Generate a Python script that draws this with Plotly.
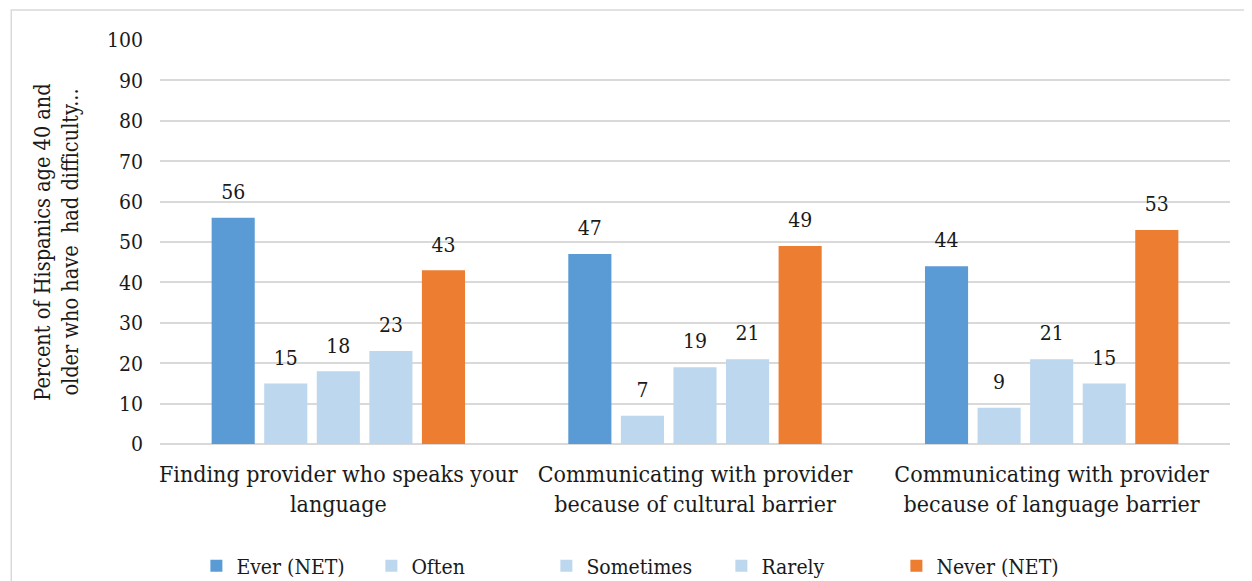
import plotly.graph_objects as go

categories = [
    "Finding provider who speaks your<br>language",
    "Communicating with provider<br>because of cultural barrier",
    "Communicating with provider<br>because of language barrier",
]
series_names = ["Ever (NET)", "Often", "Sometimes", "Rarely", "Never (NET)"]
ever = [56, 47, 44]
often = [15, 7, 9]
sometimes = [18, 19, 21]
rarely = [23, 21, 15]
never = [43, 49, 53]
series_values = [ever, often, sometimes, rarely, never]

# styles
colors = ["#5B9BD5", "#BDD7EE", "#BDD7EE", "#BDD7EE", "#ED7D31"]

FONT = "DejaVu Serif Condensed, Liberation Serif, serif"
TXT = "#1a1a1a"

fig = go.Figure()
for name, vals, col in zip(series_names, series_values, colors):
    fig.add_trace(go.Bar(
        name=name, x=categories, y=vals, marker_color=col,
        marker_line_width=0,
    ))
for name, vals in zip(series_names, series_values):
    fig.add_trace(go.Scatter(
        name=name, x=categories, y=vals, mode="markers+text",
        text=[str(v) for v in vals], textposition="top center",
        textfont=dict(family=FONT, size=21, color=TXT),
        marker=dict(size=20, opacity=0),
        showlegend=False, hoverinfo="skip", cliponaxis=False,
    ))

fig.update_layout(
    width=1252, height=581,
    paper_bgcolor="white", plot_bgcolor="white",
    margin=dict(l=152, r=30, t=32, b=145, autoexpand=False),
    barmode="group", bargap=0.263, bargroupgap=0.18,
    scattermode="group", scattergap=0.263,
    font=dict(family=FONT, size=18, color=TXT),
    showlegend=True,
    legend=dict(
        orientation="h", x=0.034, xanchor="left", y=-0.302, yanchor="middle",
        font=dict(family=FONT, size=21, color=TXT),
        entrywidth=130, entrywidthmode="pixels",
        itemclick=False, traceorder="normal",
    ),
    xaxis=dict(
        showgrid=False, showline=False, ticks="", automargin=False,
        tickfont=dict(family=FONT, size=23, color=TXT),
        ticklabelstandoff=14,
    ),
    yaxis=dict(
        range=[0, 100], dtick=10, showgrid=True, gridcolor="#D9D9D9", gridwidth=1.5,
        zeroline=True, zerolinecolor="#D9D9D9", zerolinewidth=1.5,
        showline=False, ticks="", ticklen=0, automargin=False,
        ticklabelstandoff=16,
        tickfont=dict(family=FONT, size=21, color=TXT),
        title=dict(
            text="Percent of Hispanics age 40 and<br>older who have  had difficulty...",
            font=dict(family=FONT, size=21.5, color=TXT),
            standoff=22,
        ),
    ),
    shapes=[dict(
        type="rect", xref="paper", yref="paper",
        x0=-0.139, x1=1.03, y0=-0.37, y1=1.074,
        line=dict(color="#D9D9D9", width=1.5), fillcolor="rgba(0,0,0,0)", layer="below",
    )],
)

fig.write_html("out.html")
